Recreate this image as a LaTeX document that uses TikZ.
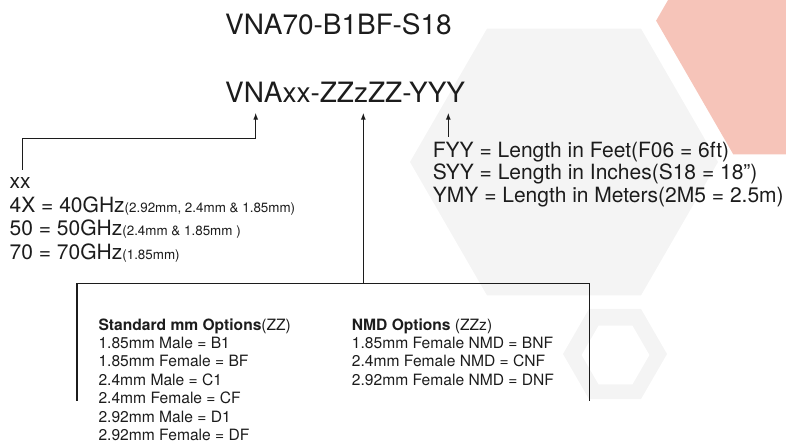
\documentclass[tikz,border=0pt]{standalone}
\usepackage{fontspec}
\setmainfont{TeX Gyre Heros}
\usetikzlibrary{positioning,arrows.meta}

\definecolor{hexgray}{HTML}{F4F4F4}
\definecolor{hexpink}{HTML}{F6C4B9}
\definecolor{ink}{HTML}{1C1C1C}

\tikzset{
	txt/.style={inner sep=0pt, anchor=base west, text=ink},
	big/.style={txt, font=\fontsize{28}{32}\selectfont},
	mid/.style={txt, font=\fontsize{21}{24}\selectfont},
	opt/.style={txt, font=\fontsize{15.6}{18}\selectfont},
	wire/.style={draw=ink, line width=1.2pt},
}
\newcommand{\conn}[1]{{\fontsize{13.4}{15}\selectfont #1}}

\begin{document}
\begin{tikzpicture}[x=1pt, y=-1pt, >={Latex[length=7pt,width=5pt]}]
	\useasboundingbox (0,0) rectangle (786,443);
	
	% background hexagons
	\begin{scope}
	\clip (0,0) rectangle (786,443);
	\fill[hexpink] (810.6,20.7) +(0:154.5) \foreach \a in {60,120,...,300} { -- +(\a:154.5) } -- cycle;
	\fill[hexgray] (564,162) +(0:154) \foreach \a in {60,120,...,300} { -- +(\a:154) } -- cycle;
	\fill[hexgray, even odd rule] (615,354) +(0:52) \foreach \a in {60,120,...,300} { -- +(\a:52) } -- cycle
		(615.5,355) +(0:34) \foreach \a in {60,120,...,300} { -- +(\a:34) } -- cycle;
	\end{scope}
	
	% part numbers
	\node[big] (title) at (225,34.3) {VNA70-B1BF-S18};
	\node[big] (code) at (225,102.3) {VNAxx-ZZzZZ-YYY};
	
	% frequency
	\node[mid] (xx) at (9.5,188.3) {xx};
	\node[mid, below=24pt of xx.base west, anchor=base west] (ghz40) {4X = 40GHz\conn{(2.92mm, 2.4mm \& 1.85mm)}};
	\node[mid, below=23.6pt of ghz40.base west, anchor=base west] (ghz50) {50 = 50GHz\conn{(2.4mm \& 1.85mm )}};
	\node[mid, below=24pt of ghz50.base west, anchor=base west] (ghz70) {70 = 70GHz\conn{(1.85mm)}};
	
	% length
	\node[mid] (feet) at (432.7,157.7) {FYY = Length in Feet(F06 = 6ft)};
	\node[mid, below=22.3pt of feet.base west, anchor=base west] (inch) {SYY = Length in Inches(S18 = 18”)};
	\node[mid, below=22.3pt of inch.base west, anchor=base west] (meter) {YMY = Length in Meters(2M5 = 2.5m)};
	
	% connectors
	\node[opt] (std) at (98.3,330) {\textbf{Standard mm Options}(ZZ)};
	\node[opt, below=18.4pt of std.base west, anchor=base west] (std1) {1.85mm Male = B1};
	\node[opt, below=18.4pt of std1.base west, anchor=base west] (std2) {1.85mm Female = BF};
	\node[opt, below=18.4pt of std2.base west, anchor=base west] (std3) {2.4mm Male = C1};
	\node[opt, below=18.4pt of std3.base west, anchor=base west] (std4) {2.4mm Female = CF};
	\node[opt, below=18.4pt of std4.base west, anchor=base west] (std5) {2.92mm Male = D1};
	\node[opt, below=18.4pt of std5.base west, anchor=base west] (std6) {2.92mm Female = DF};
	
	\node[opt] (nmd) at (351.7,330) {\textbf{NMD Options} (ZZz)};
	\node[opt, below=18.4pt of nmd.base west, anchor=base west] (nmd1) {1.85mm Female NMD = BNF};
	\node[opt, below=18.4pt of nmd1.base west, anchor=base west] (nmd2) {2.4mm Female NMD = CNF};
	\node[opt, below=18.4pt of nmd2.base west, anchor=base west] (nmd3) {2.92mm Female NMD = DNF};
	
	% arrows
	\coordinate (xxfoot) at (22.7,170);
	\coordinate (xxbend) at (22.7,138.5);
	\coordinate (xxtip) at (255.7,112.7);
	\coordinate (zzroot) at (363.3,283.5);
	\coordinate (zztip) at (363.3,112.7);
	\coordinate (yyfoot) at (448.3,137);
	\coordinate (yytip) at (448.3,112.7);
	\coordinate (boxleft) at (77,400.5);
	\coordinate (boxright) at (589.5,400.5);
	
	\draw[wire,->] (xxfoot) -- (xxbend) -| (xxtip);
	\draw[wire] (boxleft) |- (zzroot) -| (boxright);
	\draw[wire,->] (zzroot) -- (zztip);
	\draw[wire,->] (yyfoot) -- (yytip);
\end{tikzpicture}
\end{document}
